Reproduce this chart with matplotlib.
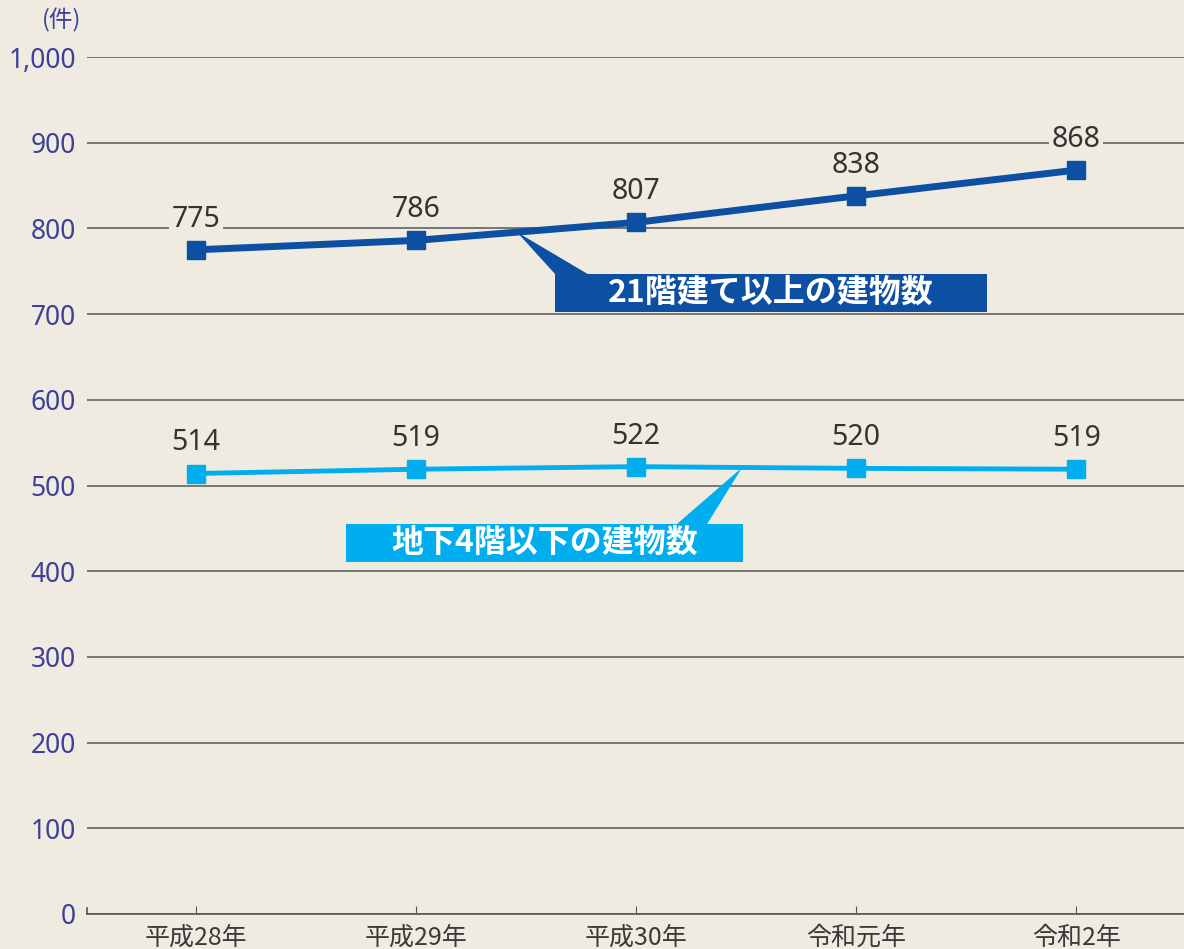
import numpy as np
import matplotlib.pyplot as plt
from matplotlib.patches import Rectangle, Polygon

plt.rcParams['font.family'] = ['Noto Sans CJK JP', 'DejaVu Sans']

years = ['平成28年', '平成29年', '平成30年', '令和元年', '令和2年']
high_rise = [775, 786, 807, 838, 868]
underground = [514, 519, 522, 520, 519]
yticks = [0, 100, 200, 300, 400, 500, 600, 700, 800, 900, 1000]
ytick_labels = ['0', '100', '200', '300', '400', '500', '600', '700', '800', '900', '1,000']

bg = '#efebe1'
dark = '#0d4fa2'
light = '#00aeef'
ycol = '#3d3f99'
num_font = ['Noto Sans', 'Noto Sans CJK JP']

fig = plt.figure(figsize=(11.84, 9.49), dpi=100, facecolor=bg)
ax = fig.add_axes([87/1184, 35/949, 1 - 87/1184, (914-57)/949])
ax.set_facecolor(bg)

x = np.arange(len(years))
ax.plot(x, high_rise, color=dark, lw=5, marker='s', ms=13.5, zorder=5, clip_on=False)
ax.plot(x, underground, color=light, lw=3.5, marker='s', ms=13.5, zorder=5, clip_on=False)

for series in (high_rise, underground):
    for xi, v in zip(x, series):
        ax.annotate(str(v), (xi, v), xytext=(0, 22), textcoords='offset points',
                    ha='center', va='center', fontsize=20.5, color='#333333', zorder=4,
                    family=num_font, fontweight='light',
                    bbox=dict(boxstyle='square,pad=0.1', fc=bg, ec='none'))

ax.set_xlim(-0.495, 4.49)
ax.set_ylim(0, 1000)
ax.set_yticks(yticks)
ax.set_yticklabels(ytick_labels, family=num_font, fontweight='light')
ax.set_xticks(x)
ax.set_xticklabels(years)
ax.tick_params(axis='y', length=0, pad=8, labelsize=19, labelcolor=ycol)
ax.tick_params(axis='x', direction='in', length=6, color='#555555', pad=8,
               labelsize=18, labelcolor='#3a3a3a')
ax.grid(axis='y', color='#555555', lw=1.1)
ax.set_axisbelow(True)
for s in ['top', 'right', 'left']:
    ax.spines[s].set_visible(False)
ax.spines['bottom'].set_color('#555555')
ax.spines['bottom'].set_linewidth(1.2)
ax.plot([-0.495, -0.495], [0, 7], color='#555555', lw=1.2, clip_on=False)

ax.text(-0.609, 1043, '(件)', ha='center', va='center', fontsize=17, color=ycol)

# series labels with pointers
def callout(x0, x1, y0, y1, base0, base1, apex_x, series, color, text):
    apex_y = np.interp(apex_x, x, series)
    ax.add_patch(Polygon([[apex_x, apex_y], [base0, y1], [base1, y1]],
                         closed=True, fc=color, ec='none', zorder=6))
    ax.add_patch(Rectangle((x0, y0), x1 - x0, y1 - y0, fc=color, ec='none', zorder=6))
    ax.text((x0 + x1) / 2, (y0 + y1) / 2, text, ha='center', va='center',
            fontsize=23, fontweight='bold', color='white', zorder=7)

callout(1.632, 3.595, 702.5, 746.8, 1.632, 1.78, 1.459, high_rise, dark, '21階建て以上の建物数')
callout(0.682, 2.486, 410.7, 455.1, 2.186, 2.323, 2.482, underground, light, '地下4階以下の建物数')

fig.savefig('out.png', dpi=100, facecolor=bg)
